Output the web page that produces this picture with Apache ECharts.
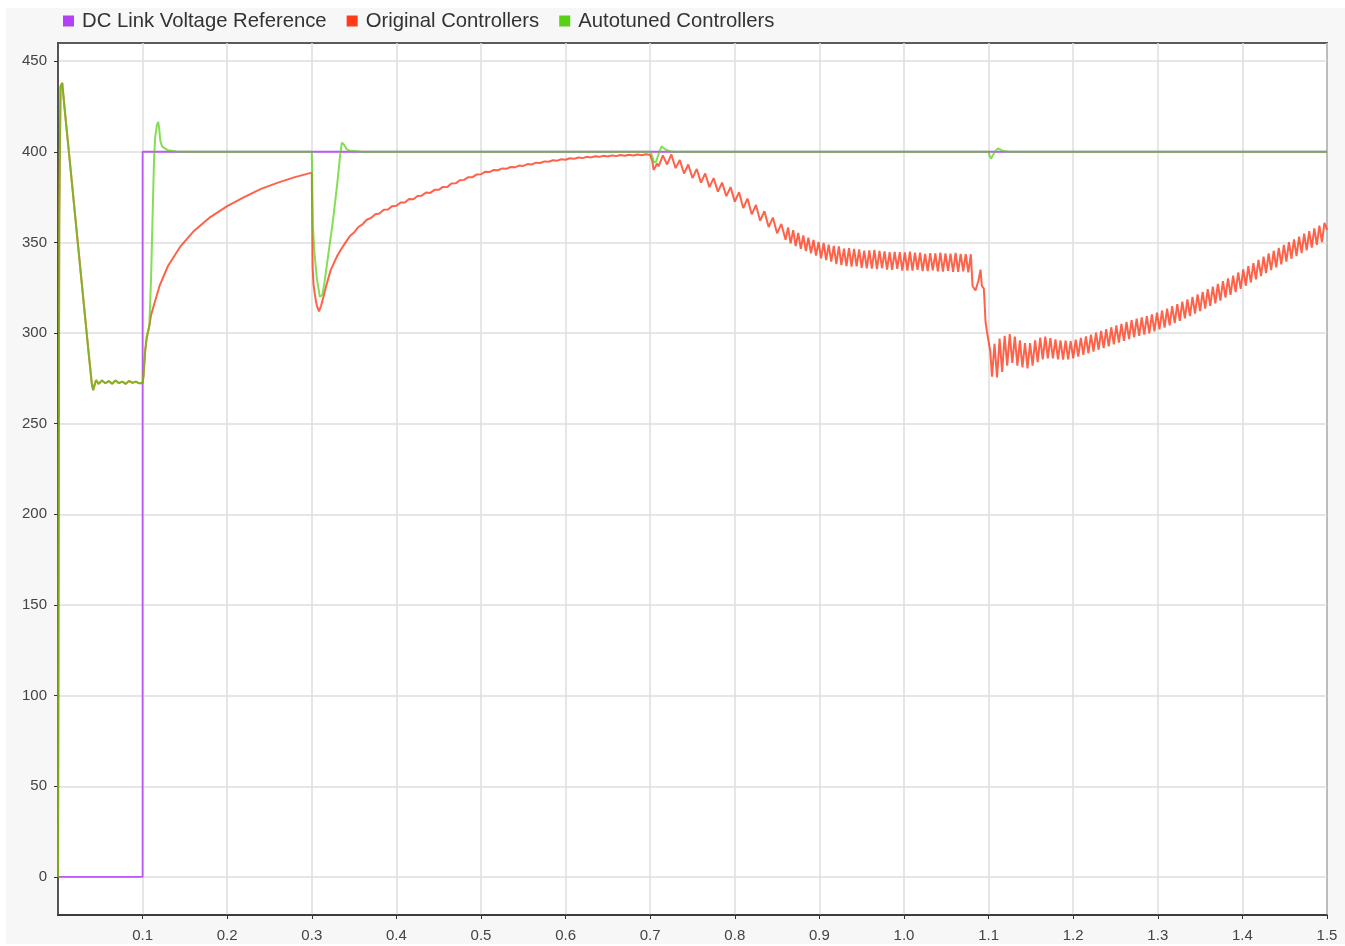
<!DOCTYPE html>
<html>
<head>
<meta charset="utf-8">
<script src="https://cdn.jsdelivr.net/npm/echarts@6/dist/echarts.min.js"></script>
<style>
html,body{margin:0;padding:0;background:#ffffff;}
#chart{width:1345px;height:946px;}
</style>
</head>
<body>
<div id="chart"></div>
<script>
// ---- Data (time in s, voltage in V) ----
var seriesNames = ['DC Link Voltage Reference', 'Original Controllers', 'Autotuned Controllers'];
var xTicks = [0.1,0.2,0.3,0.4,0.5,0.6,0.7,0.8,0.9,1.0,1.1,1.2,1.3,1.4,1.5];
var yTicks = [0,50,100,150,200,250,300,350,400,450];

var referenceVoltage = [[0,0],[0.1,0],[0.1,400],[1.5,400]];

// start-up transient shared by both controllers
var sharedStart = [[0,0],[0.0008,200],[0.0015,365],[0.003,436],[0.005,438],[0.008,423],[0.012,404],[0.016,385],[0.020,366],[0.024,347],[0.028,328],[0.032,309],[0.036,290],[0.040,272],[0.0415,268.5],[0.043,271],[0.045,274],[0.048,272],[0.052,273.8],[0.056,272.3],[0.060,273.5],[0.064,272],[0.068,273.8],[0.072,272.4],[0.076,273.2],[0.080,272],[0.084,273.6],[0.088,272.5],[0.092,273.2],[0.096,272.3],[0.100,272.5],[0.101,276],[0.103,290],[0.105,298],[0.107,302],[0.108,304]];

var originalRise = [[0.110,310],[0.115,318],[0.120,326],[0.130,337],[0.145,348],[0.160,356],[0.180,364],[0.200,370],[0.220,375],[0.240,379.5],[0.260,383],[0.280,386],[0.300,388.5]];

var originalLoadStep = [[0.3005,388],[0.301,336],[0.302,327],[0.304,320],[0.306,315],[0.3085,312],[0.311,315],[0.314,320.5],[0.317,326],[0.320,331],[0.3225,335],[0.325,337.5],[0.330,342.5],[0.335,346.5],[0.340,350],[0.345,353.5],[0.350,355.5],[0.355,358.5],[0.360,360],[0.365,362.5],[0.370,363.5],[0.375,365.5],[0.380,366],[0.385,368],[0.390,368.2],[0.395,370],[0.400,370.2],[0.405,372],[0.410,372],[0.415,374],[0.420,373.8],[0.425,375.6],[0.430,375.8],[0.435,377.5],[0.440,377.3],[0.445,379],[0.450,379],[0.455,380.6],[0.460,380.5],[0.465,382.5],[0.470,382.6],[0.475,384.3],[0.480,384.5],[0.485,386],[0.490,386],[0.495,387.5],[0.500,387.6],[0.505,389],[0.510,388.8],[0.515,390],[0.520,389.8],[0.525,390.8],[0.530,390.6],[0.535,391.6],[0.540,391.4],[0.545,392.4],[0.550,392.2],[0.555,393.2],[0.560,393],[0.565,394],[0.570,393.8],[0.575,394.7],[0.580,394.5],[0.585,395.3],[0.590,395.1],[0.595,395.9],[0.600,395.6],[0.605,396.4],[0.610,396.1],[0.615,396.8],[0.620,396.5],[0.625,397.2],[0.630,396.9],[0.635,397.5],[0.640,397.2],[0.645,397.8],[0.650,397.4],[0.655,398],[0.660,397.6],[0.665,398.2],[0.670,397.8],[0.675,398.4],[0.680,398],[0.685,398.5],[0.690,398.1],[0.695,398.6],[0.700,398.2]];

var originalSag = [[0.7025,395],[0.704,390],[0.706,391.5],[0.708,393.5],[0.710,392],[0.715,398],[0.720,393],[0.725,398.5],[0.730,391],[0.735,395.5],[0.740,388],[0.745,393],[0.750,385.5],[0.755,390.5],[0.760,383],[0.765,388],[0.770,380.5],[0.775,385.5],[0.780,378],[0.785,383],[0.790,375.5],[0.795,380.5],[0.800,372.5],[0.805,377.7],[0.810,369],[0.815,374.2],[0.820,365.5],[0.825,370.7],[0.830,362],[0.835,367.2],[0.840,358.5],[0.845,363.7],[0.850,355],[0.855,360.2],[0.860,351.5]];

var originalRipple = [[0.863,358.2],[0.866,349.5],[0.869,356.8],[0.872,348],[0.875,355.2],[0.878,346.5],[0.881,353.8],[0.884,345.2],[0.887,352.6],[0.890,344],[0.893,351.4],[0.896,342.8],[0.899,350.2],[0.902,341.2],[0.905,349.7],[0.908,340.3],[0.911,348.8],[0.914,339.4],[0.917,348.1],[0.920,338],[0.923,347.8],[0.926,337.5],[0.929,346.5],[0.932,337],[0.935,346.8],[0.938,336.6],[0.941,346.4],[0.944,336.8],[0.947,346.1],[0.950,336],[0.953,345.4],[0.956,335.7],[0.959,345.6],[0.962,335.5],[0.965,345.9],[0.968,335.3],[0.971,345.3],[0.974,335.8],[0.977,345.1],[0.980,335],[0.983,344.6],[0.986,334.9],[0.989,344.8],[0.992,335.4],[0.995,344.6],[0.998,334.5],[1.001,344.5],[1.004,334.5],[1.007,344.9],[1.010,334.4],[1.013,344.3],[1.016,334.8],[1.019,344.3],[1.022,334.2],[1.025,343.7],[1.028,334.2],[1.031,344.1],[1.034,334.6],[1.037,344],[1.040,334],[1.043,344.4],[1.046,333.9],[1.049,343.9],[1.052,334.3],[1.055,343.8],[1.058,333.8],[1.061,344.2],[1.064,333.7],[1.067,343.7],[1.070,334.1],[1.073,343.6],[1.076,333.5],[1.079,343.5]];

var originalDrop = [[1.081,326],[1.0845,323.5],[1.088,329],[1.0905,335],[1.092,326],[1.0944,324.5],[1.0964,306],[1.099,298],[1.102,290]];

var originalRecovery = [[1.104,276],[1.107,294],[1.110,275.5],[1.113,297],[1.116,278.5],[1.119,298.5],[1.122,282],[1.125,299.5],[1.128,283.5],[1.131,298],[1.134,282],[1.137,296],[1.140,281],[1.143,294.5],[1.146,280.5],[1.149,294.5],[1.152,282],[1.155,296],[1.158,284],[1.161,297.5],[1.164,285.5],[1.167,298],[1.170,286],[1.173,297.2],[1.176,286],[1.179,296.5],[1.182,285.5],[1.185,296],[1.188,285.3],[1.191,295.8],[1.194,285.5],[1.197,295.6],[1.200,286],[1.203,296.4],[1.206,287],[1.209,297.4],[1.212,288],[1.215,298.2],[1.218,288.8],[1.221,299.1],[1.224,289.8],[1.227,300.2],[1.230,290.8],[1.233,301.2],[1.236,291.7],[1.239,302.1],[1.242,292.7],[1.245,303.2],[1.248,293.8],[1.251,304.2],[1.254,294.7],[1.257,305.1],[1.260,295.7],[1.263,306.1],[1.266,296.7],[1.269,307.1],[1.272,297.7],[1.275,307.9],[1.278,298.4],[1.281,308.7],[1.284,299.1],[1.287,309.4],[1.290,299.9],[1.293,310.3],[1.296,300.9],[1.299,311.3],[1.302,302],[1.305,312.4],[1.308,303],[1.311,313.5],[1.314,304.2],[1.317,314.8],[1.320,305.5],[1.323,316],[1.326,306.7],[1.329,317.3],[1.332,308.1],[1.335,318.6],[1.338,309.4],[1.341,320],[1.344,310.7],[1.347,321.3],[1.350,312.1],[1.353,322.7],[1.356,313.5],[1.359,324.2],[1.362,315],[1.365,325.6],[1.368,316.4],[1.371,327.1],[1.374,317.9],[1.377,328.6],[1.380,319.5],[1.383,330.2],[1.386,321.1],[1.389,331.7],[1.392,322.6],[1.395,333.4],[1.398,324.4],[1.401,335.1],[1.404,326.1],[1.407,336.9],[1.410,327.9],[1.413,338.6],[1.416,329.6],[1.419,340.4],[1.422,331.4],[1.425,342.1],[1.428,333.1],[1.431,343.9],[1.434,334.7],[1.437,345.4],[1.440,336.3],[1.443,347],[1.446,337.9],[1.449,348.6],[1.452,339.4],[1.455,350.1],[1.458,341],[1.461,351.7],[1.464,342.5],[1.467,353.2],[1.470,344.1],[1.473,354.8],[1.476,345.6],[1.479,356.2],[1.482,347.1],[1.485,357.8],[1.488,348.6],[1.491,359.3],[1.494,350.2],[1.497,360.8],[1.500,357]];

var autotunedAfterStart = [[0.110,330],[0.112,368],[0.1135,395],[0.1148,408],[0.117,415],[0.1185,416.5],[0.1195,413],[0.121,406],[0.123,403],[0.125,402],[0.130,400.8],[0.140,400.2],[0.150,400],[0.300,400],[0.3005,400],[0.3012,360],[0.303,345],[0.306,330],[0.3095,320],[0.3125,321],[0.315,328],[0.320,345],[0.325,362],[0.330,382],[0.3335,398],[0.3355,405],[0.338,404],[0.341,401.5],[0.345,400.5],[0.360,400],[0.700,400],[0.702,398],[0.7045,394],[0.707,394.5],[0.710,399],[0.7135,403],[0.716,402],[0.719,401],[0.724,400.3],[0.730,400],[1.100,400],[1.1015,397.5],[1.103,396.3],[1.105,397],[1.108,400.5],[1.111,401.8],[1.114,401.2],[1.118,400.4],[1.125,400],[1.500,400]];

// ---- Build series data ----
var originalData = [].concat(sharedStart, originalRise, originalLoadStep, originalSag, originalRipple, originalDrop, originalRecovery);
var autotunedData = [].concat(sharedStart, autotunedAfterStart);

var colPurple = '#b240f5', colRed = '#ff3b1c', colGreen = '#58d015';
var font = '"Liberation Sans", Arial, Helvetica, sans-serif';

var chart = echarts.init(document.getElementById('chart'), null, {renderer: 'canvas'});
chart.setOption({
  animation: false,
  backgroundColor: '#ffffff',
  graphic: [{
    type: 'rect', z: -10, silent: true,
    shape: {x: 6, y: 8, width: 1339, height: 936},
    style: {fill: '#f7f7f7'}
  }],
  legend: {
    left: 58, top: 6,
    icon: 'rect', itemWidth: 11, itemHeight: 11, itemGap: 20,
    data: seriesNames,
    textStyle: {fontSize: 20.3, color: '#333', fontFamily: font, padding: [0, 0, 0, 3]}
  },
  grid: {
    left: 58, right: 18, top: 43, bottom: 31,
    show: true, backgroundColor: '#ffffff', borderColor: '#5a5a5a', borderWidth: 2
  },
  xAxis: {
    type: 'value', min: 0, max: 1.5, interval: 0.1,
    axisLine: {show: true, onZero: false, lineStyle: {color: '#333', width: 1.5}},
    axisTick: {show: true, length: 4, lineStyle: {color: '#333'}},
    splitLine: {show: true, lineStyle: {color: '#dedede', width: 1.5}},
    axisLabel: {
      showMinLabel: false, margin: 13, fontSize: 15, color: '#444', fontFamily: font,
      formatter: function (v) { return v.toFixed(1); }
    }
  },
  yAxis: {
    type: 'value', min: -21, max: 460,
    axisLine: {show: true, onZero: false, lineStyle: {color: '#333', width: 1.5}},
    axisTick: {show: true, length: 4, customValues: yTicks, lineStyle: {color: '#333'}},
    splitLine: {show: true, lineStyle: {color: '#dedede', width: 1.5}},
    axisLabel: {customValues: yTicks, margin: 11, fontSize: 15, color: '#444', fontFamily: font}
  },
  series: [
    {name: seriesNames[0], type: 'line', data: referenceVoltage, showSymbol: false,
     itemStyle: {color: colPurple}, lineStyle: {color: colPurple, width: 1.8, opacity: 0.85}},
    {name: seriesNames[1], type: 'line', data: originalData, showSymbol: false,
     itemStyle: {color: colRed}, lineStyle: {color: colRed, width: 2, opacity: 0.8}},
    {name: seriesNames[2], type: 'line', data: autotunedData, showSymbol: false,
     itemStyle: {color: colGreen}, lineStyle: {color: colGreen, width: 2, opacity: 0.72}}
  ]
});
</script>
</body>
</html>
